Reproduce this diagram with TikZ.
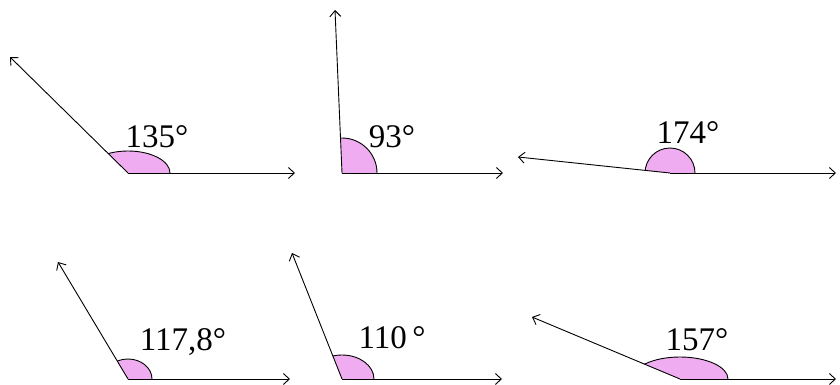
\documentclass[tikz,border=0pt]{standalone}
\usepackage{fontspec}
\setmainfont{Liberation Serif}
\usepackage{xcolor}
\usetikzlibrary{arrows.meta}

\definecolor{sectorpink}{RGB}{240,172,240}

\begin{document}
\begin{tikzpicture}[
    x=1pt, y=-1pt,
    >={Straight Barb[length=6pt,width=11pt]},
    ray/.style={->, line width=0.9pt},
    sector/.style={
        fill=sectorpink,
        draw=black,
        line width=0.9pt
    },
    deg/.style={
        font=\fontsize{33}{36}\selectfont,
        inner sep=0pt
    }
]
\useasboundingbox (0,0) rectangle (840,385);

% top row
\coordinate (v1) at (128,173);
\coordinate (a1) at (295,173);
\coordinate (b1) at (10,57);
\begin{scope}
  \clip (v1) -- (a1) -- ++(0,-200) -- (b1) -- cycle;
  \filldraw[sector] (v1) ellipse [x radius=42, y radius=22];
\end{scope}
\draw[ray] (v1) -- (a1);
\draw[ray] (v1) -- (b1);
\node[deg] (l1) at (157,137) {135°};

\coordinate (v2) at (342,173);
\coordinate (a2) at (503,173);
\coordinate (b2) at (335,10);
\begin{scope}
  \clip (v2) -- (a2) -- ++(0,-200) -- (b2) -- cycle;
  \filldraw[sector] (v2) circle [radius=35];
\end{scope}
\draw[ray] (v2) -- (a2);
\draw[ray] (v2) -- (b2);
\node[deg] (l2) at (392,137) {93°};

\coordinate (v3) at (670,173);
\coordinate (a3) at (836,173);
\coordinate (b3) at (518,157);
\begin{scope}
  \clip (v3) -- (a3) -- ++(0,-200) -- (b3) -- cycle;
  \filldraw[sector] (v3) circle [radius=25];
\end{scope}
\draw[ray] (v3) -- (a3);
\draw[ray] (v3) -- (b3);
\node[deg] (l3) at (688,133) {174°};

% bottom row
\coordinate (v4) at (128,379);
\coordinate (a4) at (290,379);
\coordinate (b4) at (58,262);
\begin{scope}
  \clip (v4) -- (a4) -- ++(0,-200) -- (b4) -- cycle;
  \filldraw[sector] (v4) ellipse [x radius=24, y radius=20];
\end{scope}
\draw[ray] (v4) -- (a4);
\draw[ray] (v4) -- (b4);
\node[deg] (l4) at (183,342) {117,8°};

\coordinate (v5) at (342,379);
\coordinate (a5) at (502,379);
\coordinate (b5) at (292,253);
\begin{scope}
  \clip (v5) -- (a5) -- ++(0,-200) -- (b5) -- cycle;
  \filldraw[sector] (v5) ellipse [x radius=32, y radius=24];
\end{scope}
\draw[ray] (v5) -- (a5);
\draw[ray] (v5) -- (b5);
\node[deg] (l5) at (392,338) {110\,°};

\coordinate (v6) at (680,379);
\coordinate (a6) at (836,379);
\coordinate (b6) at (532,317);
\begin{scope}
  \clip (v6) -- (a6) -- ++(0,-200) -- (b6) -- cycle;
  \filldraw[sector] (v6) ellipse [x radius=48, y radius=22];
\end{scope}
\draw[ray] (v6) -- (a6);
\draw[ray] (v6) -- (b6);
\node[deg] (l6) at (697,340) {157°};

\end{tikzpicture}
\end{document}
